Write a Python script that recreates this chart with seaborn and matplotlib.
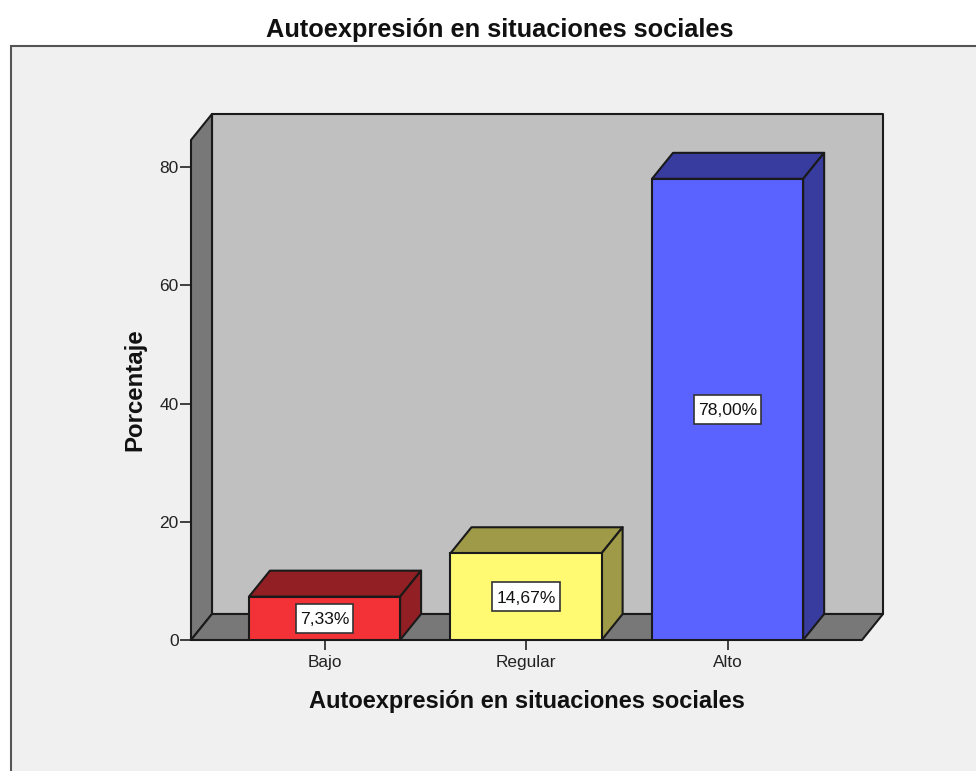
import matplotlib
matplotlib.use("Agg")
import matplotlib.pyplot as plt
from matplotlib.patches import Polygon, Rectangle
import pandas as pd
import seaborn as sns

# values
categories = ["Bajo", "Regular", "Alto"]
percentages = [7.33, 14.67, 78.00]
bar_labels = ["7,33%", "14,67%", "78,00%"]
front_colors = ["#F33238", "#FFFA72", "#5A62FF"]
dark_colors = ["#921F23", "#9E9A48", "#383C9E"]
y_ticks = [0, 20, 40, 60, 80]

W, H = 976, 771
DEPTH_X, DEPTH_Y = 21, 26  # pixels

df = pd.DataFrame({"cat": categories, "pct": percentages})

sns.set_theme(style="white")
plt.rcParams["font.family"] = ["Liberation Sans", "DejaVu Sans"]

fig = plt.figure(figsize=(W / 100, H / 100), dpi=100, facecolor="white")

# grey panel, runs off the right and bottom edges
fig.add_artist(Rectangle((11 / W, 0 - 0.01), 1, 1 - 46 / H + 0.01, transform=fig.transFigure,
                         facecolor="#F0F0F0", edgecolor="#555555", linewidth=1.5, zorder=-1))

ax = fig.add_axes([191 / W, 1 - 640 / H, 671 / W, 500 / H])
ax.patch.set_visible(False)

sns.barplot(data=df, x="cat", y="pct", hue="cat", palette=front_colors, order=categories,
            hue_order=categories, saturation=1, width=0.75, dodge=False, legend=False,
            edgecolor="#1A1A1A", linewidth=1.5, zorder=5, ax=ax)

ax.set_xlim(-0.6625, 2.667)
ax.set_ylim(0, 500 / 5.9125)
x0, x1 = ax.get_xlim()
y0, y1 = ax.get_ylim()

# pixel to data units
px_x = (x1 - x0) / 671
px_y = (y1 - y0) / 500
dx = DEPTH_X * px_x
dy = DEPTH_Y * px_y


def face(points, color, z):
    ax.add_patch(Polygon(points, closed=True, facecolor=color, edgecolor="#1A1A1A",
                         linewidth=1.5, joinstyle="round", clip_on=False, zorder=z))


# walls and floor
face([(x0 + dx, y0 + dy), (x1 + dx, y0 + dy), (x1 + dx, y1 + dy), (x0 + dx, y1 + dy)], "#C0C0C0", 1)
face([(x0, y0), (x0 + dx, y0 + dy), (x0 + dx, y1 + dy), (x0, y1)], "#787878", 2)
face([(x0, y0), (x1, y0), (x1 + dx, y0 + dy), (x0 + dx, y0 + dy)], "#787878", 2)

renderer = fig.canvas.get_renderer()

# top and side of each bar, plus the value box
for bar, dark, label in zip(ax.patches[:3], dark_colors, bar_labels):
    left, right = bar.get_x(), bar.get_x() + bar.get_width()
    h = bar.get_height()
    face([(left, h), (right, h), (right + dx, h + dy), (left + dx, h + dy)], dark, 4)
    face([(right, 0), (right + dx, dy), (right + dx, h + dy), (right, h)], dark, 4)
    cx = (left + right) / 2
    txt = ax.text(cx, h / 2, label, ha="center", va="center_baseline", fontsize=12.6, color="#111111", zorder=7)
    box_w = (txt.get_window_extent(renderer).width + 8) * px_x
    box_h = 29 * px_y
    ax.add_patch(Rectangle((cx - box_w / 2, h / 2 - box_h / 2), box_w, box_h, facecolor="white",
                           edgecolor="#333333", linewidth=1.2, zorder=6))

for side in ax.spines.values():
    side.set_visible(False)

ax.set_yticks(y_ticks)
ax.tick_params(axis="y", left=True, length=8, width=1.2, color="#222222", labelsize=12.5, labelcolor="#222222", pad=1)
ax.tick_params(axis="x", bottom=True, length=7.5, width=1.2, color="#222222", labelsize=12.4, labelcolor="#222222", pad=3.5)

ax.set_xlabel("Autoexpresión en situaciones sociales", fontsize=17, fontweight="bold", color="#111111", labelpad=14)
ax.set_ylabel("Porcentaje", fontsize=17.3, fontweight="bold", color="#111111", labelpad=9.5)

fig.text(500 / W, 1 - 29.5 / H, "Autoexpresión en situaciones sociales", fontsize=18.3, color="#111111",
         fontweight="bold", ha="center", va="center")

fig.savefig("out.png", dpi=100, facecolor="white")
